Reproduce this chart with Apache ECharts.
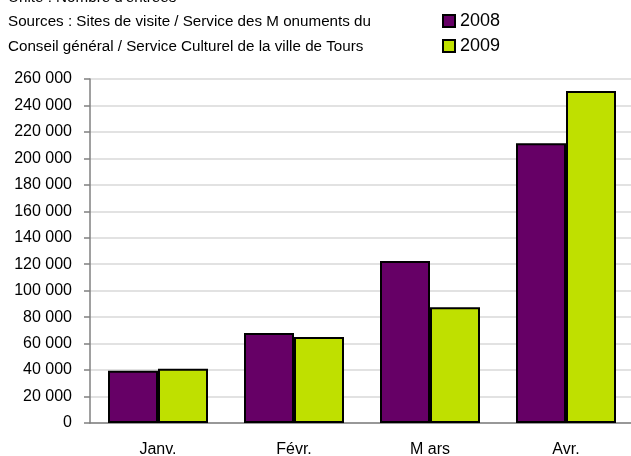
<!DOCTYPE html>
<html>
<head>
<meta charset="utf-8">
<script src="https://cdn.jsdelivr.net/npm/echarts@6/dist/echarts.min.js"></script>
<style>
  html, body { margin: 0; padding: 0; background: #fff; }
  #chart { width: 631px; height: 456px; }
</style>
</head>
<body>
<div id="chart"></div>
<script>
// valeurs (nombre d'entrées)
const months = ['Janv.', 'Févr.', 'M ars', 'Avr.'];
const entries2008 = [39500, 68000, 122500, 211500];
const entries2009 = [41000, 65000, 87500, 251000];
const noteLines = [
  "Unité : Nombre d'entrées",
  'Sources : Sites de visite / Service des M onuments du',
  'Conseil général / Service Culturel de la ville de Tours'
];

const font = 'Liberation Sans, Arial, sans-serif';
let chart = echarts.init(document.getElementById('chart'));

chart.setOption({
  animation: false,
  textStyle: { fontFamily: font },
  graphic: noteLines.map(function (t, i) {
    return {
      type: 'text',
      left: 8,
      top: -10 + i * 24.5,
      style: { text: t, font: '15.2px ' + font, fill: '#000' }
    };
  }),
  legend: {
    orient: 'vertical',
    left: 437,
    top: 7,
    icon: 'rect',
    itemWidth: 12,
    itemHeight: 12,
    itemGap: 7,
    textStyle: { fontSize: 18, color: '#000' },
    data: ['2008', '2009']
  },
  grid: { left: 90, top: 79, width: 544, height: 344, outerBoundsMode: 'none', containLabel: false },
  xAxis: {
    type: 'category',
    data: months,
    axisLine: { lineStyle: { color: '#808080', width: 1.5 } },
    axisTick: { length: 6, lineStyle: { color: '#808080', width: 1.5 } },
    axisLabel: { color: '#000', fontSize: 16, margin: 19 }
  },
  yAxis: {
    type: 'value',
    min: 0,
    max: 260000,
    interval: 20000,
    axisLine: { show: true, lineStyle: { color: '#808080', width: 1.5 } },
    axisTick: { show: true, length: 6, lineStyle: { color: '#808080', width: 1.5 } },
    splitLine: { lineStyle: { color: '#d9d9d9', width: 1.5 } },
    axisLabel: {
      color: '#000',
      fontSize: 16,
      margin: 18,
      formatter: function (v) {
        return v.toLocaleString('fr-FR').replace(/\s/g, ' ');
      }
    }
  },
  series: [
    {
      name: '2008',
      type: 'bar',
      barWidth: 50,
      barGap: '0%',
      itemStyle: { color: '#660066', borderColor: '#000', borderWidth: 2 },
      data: entries2008
    },
    {
      name: '2009',
      type: 'bar',
      barWidth: 50,
      barGap: '0%',
      itemStyle: { color: '#bfe000', borderColor: '#000', borderWidth: 2 },
      data: entries2009
    }
  ]
});
</script>
</body>
</html>
